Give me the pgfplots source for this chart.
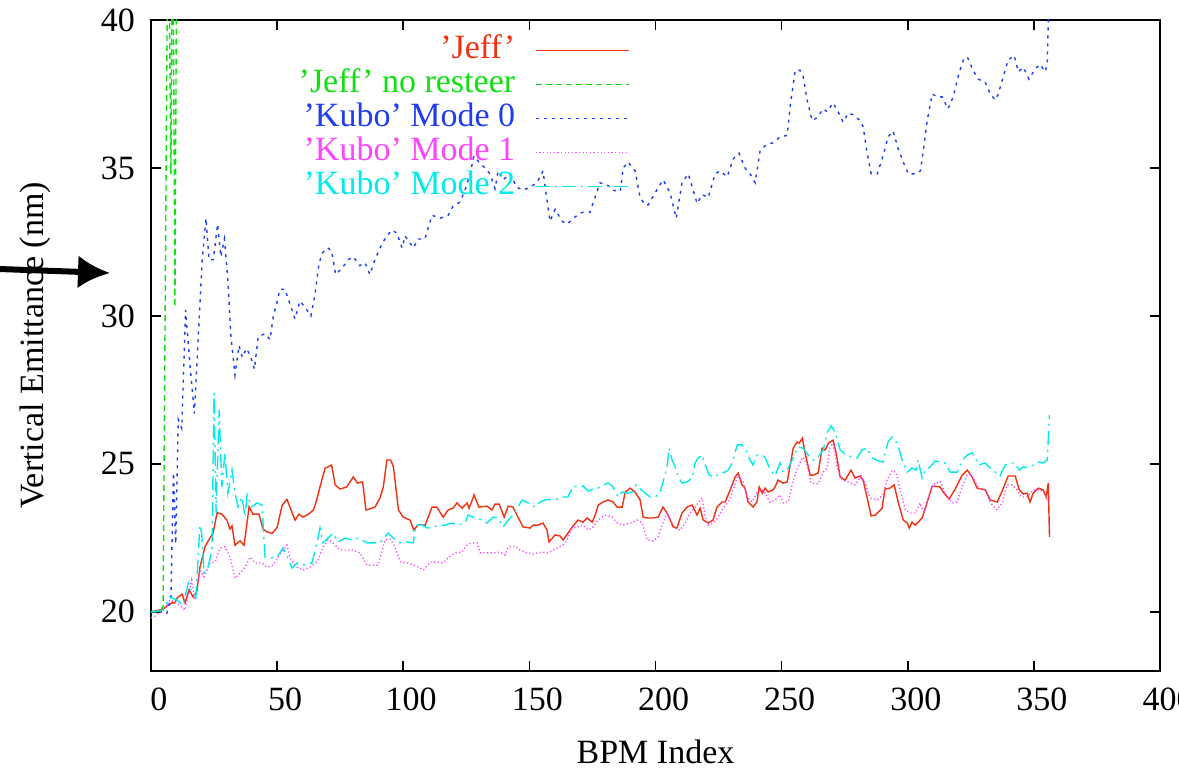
\documentclass[border=0pt]{standalone}
\usepackage{fontspec}
\setmainfont{Liberation Serif}
\usepackage{pgfplots}
\pgfplotsset{compat=1.18}
\usetikzlibrary{arrows.meta}
\definecolor{jred}{HTML}{F0300F}
\definecolor{jgreen}{HTML}{10E010}
\definecolor{kblue}{HTML}{1E3CF0}
\definecolor{kmag}{HTML}{FF44FF}
\definecolor{kcyan}{HTML}{00ECEC}

\begin{document}
\begin{tikzpicture}[font=\fontsize{17}{20}\selectfont]
\begin{axis}[
  scale only axis, width=504.5pt, height=325.5pt,
  xmin=0, xmax=400, ymin=18, ymax=40,
  xtick={0,50,...,400}, ytick={20,25,30,35,40},
  tick align=inside, major tick length=5pt,
  tick style={line width=0.8pt, black},
  axis line style={line width=0.9pt},
  /pgf/number format/assume math mode=true,
  xticklabel style={yshift=-5pt, xshift=4pt},
  yticklabel style={xshift=-4.5pt},
  xlabel={BPM Index}, ylabel={Vertical Emittance (nm)},
  every axis x label/.style={at={(axis description cs:0.5,-0.1244)}, anchor=center},
  every axis y label/.style={at={(axis description cs:-0.115,0.5)}, anchor=center, rotate=90},
  legend style={draw=none, fill=none, at={(0.4747,0.978)}, anchor=north east,
    inner sep=0pt, row sep=1.5pt, column sep=10pt,
    nodes={inner sep=0pt, text height=12pt, text depth=3.5pt}},
  legend cell align=right, legend plot pos=right,
  legend image code/.code={\draw[#1] (0pt,0pt) -- (46.5pt,0pt);},
  every axis plot/.append style={line width=0.7pt},
]
\addplot[jred] coordinates {(0,20) (2.9,20.05) (4.9,20.1) (6.3,20.2) (8.2,20.3) (9.5,20.3) (10.2,20.45) (12.3,20.6) (13.5,20.3) (15.1,20.75) (16.7,20.5) (18.2,20.7) (19.4,21.5) (21.4,22.2) (23.4,22.5) (24.6,22.65) (26.2,23.35) (28.1,23.3) (30.1,23.1) (31.3,22.8) (32.1,22.9) (33.3,22.25) (35.3,22.4) (36.9,22.25) (38.9,23.55) (40.4,23.3) (42.8,23.3) (44.4,22.8) (46,22.7) (48,22.65) (50,22.85) (52,23.6) (53.9,23.8) (55.5,23.45) (57.1,23.1) (58.7,23.3) (60.3,23.2) (62.4,23.3) (64.4,23.44) (65.7,23.78) (67.7,24.45) (69,24.85) (71.6,24.96) (73,24.29) (74.9,24.15) (77.6,24.22) (80.2,24.56) (81.8,24.35) (83.9,24.39) (85.2,23.44) (88.8,23.54) (90.8,23.85) (92.1,24.22) (93.5,25.13) (95,25.13) (96.1,24.9) (98.1,23.44) (100,23.2) (102.7,23.1) (104.2,22.76) (105.7,22.93) (108.7,22.93) (111.4,23.54) (113.3,23.54) (115.8,23.2) (117.8,23.44) (119.7,23.5) (121.3,23.68) (123.3,23.5) (125.3,23.68) (126.1,23.5) (128.1,23.95) (130,23.54) (133.2,23.57) (135.2,23.44) (136.4,23.64) (138,23.64) (140,23.2) (141.6,23.57) (143.5,23.54) (145.5,23.2) (147.5,22.87) (150.3,22.83) (151.5,22.93) (153.5,22.93) (155.4,23.0) (157,22.76) (157.8,22.36) (160.2,22.6) (162.2,22.56) (163.4,22.43) (165.3,22.66) (167.3,22.9) (169.3,23.1) (171.3,23.03) (172.9,23.17) (174.9,23.03) (176.1,23.27) (177.3,23.61) (179.2,23.71) (181.2,23.78) (183.2,23.71) (184.8,23.54) (186.8,23.54) (188,24.05) (190,24.18) (191.9,24.05) (193.9,23.78) (195.1,23.2) (197.1,23.17) (199.1,23.17) (201,23.2) (203,23.54) (205,23.27) (207,22.87) (208.5,22.83) (210.5,23.34) (212.5,23.54) (214.5,23.61) (216.5,23.27) (217.7,23.5) (218.9,23.1) (220.9,23.0) (222.8,23.1) (224.4,23.54) (226.4,23.71) (227.6,23.71) (229.6,24.12) (231.6,24.56) (232.8,24.69) (234.3,24.29) (235.5,24.18) (236.7,23.71) (238.7,23.54) (240.2,23.71) (241.1,24.22) (242.3,24.01) (243.5,24.18) (244.6,24.05) (246.6,24.12) (247.4,24.22) (248.6,24.45) (250.6,24.35) (252.2,24.39) (254.6,25.53) (256.1,25.74) (257,25.7) (258.2,25.87) (259.3,25.37) (261.3,24.62) (262.5,24.62) (264.5,24.69) (266,25.53) (267.3,25.47) (268.5,25.7) (270.4,25.8) (271.6,25.37) (273.2,24.56) (275.2,24.45) (277.5,24.79) (279.1,24.52) (281.1,24.59) (282.3,24.45) (283.9,23.85) (285.5,23.24) (287.1,23.27) (289.8,23.5) (291,24.15) (293,24.18) (294.6,24.29) (296.2,23.71) (298.2,23.1) (299.8,23.0) (300.6,22.83) (301.7,23.03) (303,22.93) (305.7,23.17) (307.7,23.71) (309.7,24.25) (312.8,24.22) (314.4,24.01) (316.4,23.81) (318.8,24.15) (321.6,24.62) (323.6,24.79) (325.5,24.56) (327.5,24.18) (330.7,24.12) (332.7,23.78) (335.5,23.71) (337.9,24.18) (339.8,24.59) (342.6,24.59) (344.2,24.12) (345.8,23.98) (347.3,24.01) (348.5,23.71) (349.7,24.01) (351.7,24.18) (353.7,24.12) (354.9,23.88) (355.7,24.35) (356.2,22.53)};
\addlegendentry{\textcolor{jred}{'Jeff'}}
\addplot[jgreen, dash pattern=on 3pt off 2pt] coordinates {(0,20) (2,20) (4,20.05) (4.8,20.2) (6.8,45) (7.9,34.8) (8.6,45) (9.5,30.3) (10.3,45) (12,60) (20,60)};
\addlegendentry{\textcolor{jgreen}{'Jeff' no resteer}}
\addplot[kblue, dash pattern=on 1.5pt off 2.5pt] coordinates {(0,20) (3,20) (5.5,20) (6.3,19.95) (7.9,20.5) (8.9,24.7) (9.8,22.3) (10.8,26.5) (12.2,26.2) (13.7,30.2) (15.5,28.3) (17.2,26.7) (18.8,29.4) (20.3,31.9) (21.8,33.3) (23,31.9) (24.7,31.9) (26.4,33.1) (27.7,32) (29.1,32.6) (30.4,31.3) (31.7,29.3) (33.3,28) (34.9,29) (36.2,28.6) (37.9,28.9) (39.6,28.6) (41,28.2) (42.5,29.3) (45.2,29.4) (47.2,29.2) (48.5,30) (49.8,30.4) (51.1,30.9) (53.1,30.9) (55.1,30.4) (57.1,29.9) (59,30.5) (61,30.3) (63.4,30) (65,30.7) (66.3,31.6) (67.6,32.1) (70,32.3) (71.6,32.2) (73.2,31.4) (75.6,31.6) (78.2,31.9) (80.2,32) (82.8,31.7) (84.8,31.8) (86.8,31.4) (88.8,31.9) (90.8,32.3) (92.7,32.6) (95.4,32.9) (97.5,32.8) (99.5,32.3) (100.7,32.7) (104,32.3) (106,32.6) (108.6,32.6) (111.4,33.4) (114.6,33.3) (117.8,33.4) (119.7,33.7) (122.5,33.85) (124.5,34.25) (126.5,34.8) (128,35.4) (130,35.2) (132.4,35.0) (134.4,34.8) (136.4,34.3) (137.6,34.9) (139.6,34.6) (142.3,34.8) (145,34.35) (147.5,34.25) (150.3,34.35) (153,34.5) (155.4,34.9) (157,33.9) (158.2,33.2) (160.2,33.6) (163,33.2) (165,33.1) (167.3,33.3) (170.9,33.5) (174,33.5) (176,34.0) (178,34.5) (181.3,34.4) (183.2,34.25) (186,34.2) (187.2,35.0) (189.1,35.2) (191.9,34.9) (193.9,34.0) (195.9,33.75) (197.1,33.75) (199.8,34.15) (203,34.6) (205.8,34.15) (208.2,33.3) (210.5,34.5) (213,34.8) (216.5,33.8) (218.5,34.1) (220.9,34.0) (223.6,34.8) (225.6,34.9) (228.4,34.7) (230.8,35.3) (233.1,35.5) (235.5,35.0) (237.5,34.8) (239.5,34.5) (241.5,35.6) (244.2,35.8) (246.6,35.85) (249.4,36.05) (252.2,36.1) (253.4,37.1) (255.4,38.3) (257.3,38.3) (258.5,38.1) (260.1,37.3) (262.1,36.6) (264.1,36.7) (266.5,37.0) (268,36.9) (270.4,37.2) (272.4,36.9) (274.4,36.55) (276.4,36.85) (278.4,36.8) (281.1,36.6) (282.3,36.4) (283.9,35.5) (285.5,34.8) (287.9,34.8) (290.2,35.4) (292.2,36.05) (294.2,36.25) (296.2,35.65) (298.2,35.2) (300.2,34.8) (303,34.8) (305,34.9) (306.2,35.6) (307.7,36.6) (309.7,37.5) (311.7,37.4) (313.6,37.4) (316,37.0) (318,37.4) (320,38.1) (322,38.65) (323.6,38.75) (325.9,38.3) (328,38.0) (330.7,37.9) (332.7,37.5) (334.7,37.3) (335.9,37.5) (337.9,38.1) (339.8,38.65) (342.2,38.8) (343.8,38.25) (345.8,38.4) (348.1,38.0) (350.5,38.35) (352.5,38.5) (354.5,38.25) (355.3,38.55) (356.2,41.5)};
\addlegendentry{\textcolor{kblue}{'Kubo' Mode 0}}
\addplot[kmag, dash pattern=on 0.6pt off 1.2pt] coordinates {(0,19.8) (1.5,19.85) (3.6,20) (5.5,20.1) (7.5,20.4) (10.2,20.3) (13.5,20.06) (16.1,21.07) (17.4,20.4) (19.4,21.4) (21,21.18) (23.4,21.65) (25.4,21.68) (27.4,22.15) (29.3,22.2) (31.3,21.85) (33.3,21.14) (35.3,21.31) (37.3,21.51) (39.3,21.85) (41.2,21.65) (44,21.65) (46,21.51) (48.4,21.58) (51.1,21.92) (53.9,22.26) (55.1,21.82) (57.9,21.51) (60.3,21.41) (63,21.51) (65.8,21.68) (68.2,22.19) (70.2,22.43) (72.2,22.33) (74.9,22.09) (77.7,22.09) (80.1,22.09) (82.9,21.99) (85.6,21.58) (88,21.58) (90,21.58) (92.8,22.43) (94.8,22.46) (96.7,22.2) (98.7,21.7) (101.5,21.65) (104,21.58) (106,21.51) (108,21.41) (110.6,21.68) (113.4,21.68) (115.8,21.65) (117.8,21.82) (120.5,21.99) (123.3,22.02) (125.3,22.26) (127.3,22.33) (129.3,22.33) (130.5,21.99) (133.2,21.99) (135.6,21.99) (138.4,22.02) (140.4,21.92) (141.6,22.19) (144.3,22.22) (146.3,22.09) (149.1,21.99) (151.5,21.95) (155,22.02) (157.4,21.99) (161,22.15) (163.4,22.26) (165.3,22.49) (166.9,22.83) (169.3,22.87) (171.3,22.93) (173.3,22.76) (175.3,22.87) (177.2,23.1) (180,23.27) (182.8,23.2) (184.8,23.0) (187.2,22.93) (190,23.0) (192.7,23.1) (194.7,23.0) (196.7,22.43) (199.1,22.39) (201,22.53) (202.6,22.93) (204.6,23.34) (205.8,23.1) (207.8,22.83) (209.8,22.76) (211.7,23.0) (213.7,23.34) (215.7,23.54) (217.7,23.78) (218.5,23.85) (219.7,23.2) (220.9,22.93) (222.8,23.0) (224.8,23.2) (226.8,23.5) (228.8,23.71) (230.8,24.12) (232.8,24.62) (234.7,24.39) (236.3,23.88) (238.3,23.71) (240.3,24.05) (242.7,24.12) (245.4,23.7) (247.4,23.78) (249.4,23.95) (250.6,23.68) (252.6,23.71) (254.6,24.45) (256.5,24.9) (258.5,25.23) (260.1,24.96) (261.7,24.35) (264.5,24.32) (266.5,24.72) (268,24.86) (269.2,25.57) (270.4,25.7) (272,24.9) (274,24.45) (276.4,24.39) (279.1,24.29) (281.5,24.59) (283.1,24.35) (285.1,23.85) (287.9,23.78) (290.2,23.95) (291.8,24.45) (293.8,24.79) (295.4,24.69) (297,24.12) (299,23.44) (301,23.34) (303,23.34) (304.9,23.68) (306.5,23.34) (308.1,23.85) (310.1,24.29) (312.8,24.42) (314.8,24.01) (317.6,23.68) (319.6,23.71) (321.6,24.22) (323.6,24.62) (325.5,24.62) (327.9,24.18) (330.7,24.12) (332.7,23.68) (335.5,23.44) (337.4,23.68) (339.4,24.29) (341.4,24.29) (343.4,24.12) (345,23.88) (347.3,23.88) (349.7,24.12) (352.5,24.12) (354.5,23.95) (356.1,23.68)};
\addlegendentry{\textcolor{kmag}{'Kubo' Mode 1}}
\addplot[kcyan, dash pattern=on 7pt off 2.5pt on 1pt off 2.5pt] coordinates {(0,20) (2.5,20.02) (4.8,20.06) (7.5,20.5) (10.2,20.4) (12.7,20.23) (14.8,20.97) (16.1,20.67) (17.8,20.5) (19.4,22.93) (20.1,22.66) (21,21.31) (22.6,21.51) (24.2,22.09) (25,27.39) (25.8,23.34) (27,26.82) (28.1,24.22) (29.3,25.37) (30.5,24.01) (32.1,24.79) (33.3,24.01) (34.5,23.54) (36.1,23.88) (37.3,23.2) (38.1,23.95) (40,23.54) (42,23.68) (44,23.61) (45.2,21.85) (47.2,21.82) (50,21.85) (52.3,22.15) (54.3,21.82) (55.9,21.48) (57.9,21.65) (60.3,21.58) (63.8,21.65) (65.8,22.33) (67,22.83) (68.2,22.33) (70.2,22.49) (72.2,22.66) (74.1,22.36) (76.9,22.49) (79.7,22.43) (82.1,22.49) (85.6,22.33) (88,22.33) (90.8,22.33) (94,22.66) (96,22.49) (98.7,22.33) (101.5,22.36) (104,22.33) (105,22.93) (107.4,22.93) (109.8,22.83) (113.4,22.9) (116.6,22.93) (119.3,23.0) (121.7,22.93) (124.5,23.0) (125.7,23.27) (128.5,23.17) (131.2,23.1) (133.2,23.0) (135.6,23.2) (137.6,23.17) (139.6,22.87) (141.6,23.1) (143.5,23.27) (145.5,23.54) (147.1,23.78) (149.5,23.68) (152.3,23.54) (154.2,23.71) (156.2,23.78) (159,23.81) (161.4,23.81) (163.4,23.88) (165.3,23.88) (167.3,24.25) (169.3,24.22) (171.3,24.25) (173.3,24.08) (175.3,24.15) (177.2,24.18) (179.2,24.29) (181.2,24.35) (183.2,24.22) (185.2,23.88) (186.8,24.05) (188.7,24.01) (190.7,24.05) (192.3,24.29) (193.9,24.15) (195.9,24.01) (197.9,23.88) (199.8,23.88) (201.8,24.01) (203,24.39) (204.6,24.9) (205.4,25.53) (206.6,25.13) (207.8,24.9) (209,24.56) (210.5,24.35) (212.5,24.39) (214.5,24.52) (215.7,25.03) (216.9,25.2) (218.5,25.3) (219.7,24.96) (221.3,24.62) (223.6,24.56) (225.6,24.69) (227.6,24.72) (228.8,24.79) (230.4,25.03) (232.4,25.64) (234.3,25.64) (235.9,25.47) (237.5,25.13) (238.7,24.96) (240.3,25.3) (242.3,25.3) (243.5,25.2) (245.4,24.82) (247.4,24.6) (249.4,25.03) (250.6,24.72) (252.6,24.86) (254.6,25.2) (256.5,25.57) (258.5,25.53) (260.5,25.3) (262.5,25.13) (264.5,25.23) (266.5,25.47) (268,26.04) (269.6,26.28) (271.2,26.08) (273.2,25.47) (275.6,25.3) (278,25.23) (279.9,25.2) (281.9,25.47) (283.9,25.53) (285.9,25.2) (288.3,25.1) (290.2,25.06) (292.2,25.74) (293.8,25.91) (295.8,25.7) (297.8,25.13) (299.8,24.72) (301.7,24.86) (303.3,24.79) (304.1,25.13) (305.7,24.52) (306.9,24.79) (308.9,24.9) (310.9,25.1) (312.8,25.06) (314.8,25.03) (316.8,24.72) (319.6,24.72) (321.6,25.13) (323.6,25.3) (325.5,25.37) (326.7,25.23) (327.9,24.96) (330.7,25.03) (332.7,24.86) (334.7,24.72) (336.6,24.59) (338.6,24.96) (340.6,25.03) (342.6,25.03) (344.2,24.79) (345.8,24.9) (347.7,24.86) (349.7,24.96) (351.7,25.06) (353.7,25.03) (355.3,25.13) (356.2,26.65)};
\addlegendentry{\textcolor{kcyan}{'Kubo' Mode 2}}
\end{axis}
% annotation arrow at the left edge
\draw[line width=3pt, -{Latex[length=16pt,width=16.5pt]}] (-76pt,201pt) -- (-20.5pt,199pt);
\pgfresetboundingbox
\path[use as bounding box] (-75.5pt,-50pt) rectangle (514pt,335.5pt);
\end{tikzpicture}
\end{document}
